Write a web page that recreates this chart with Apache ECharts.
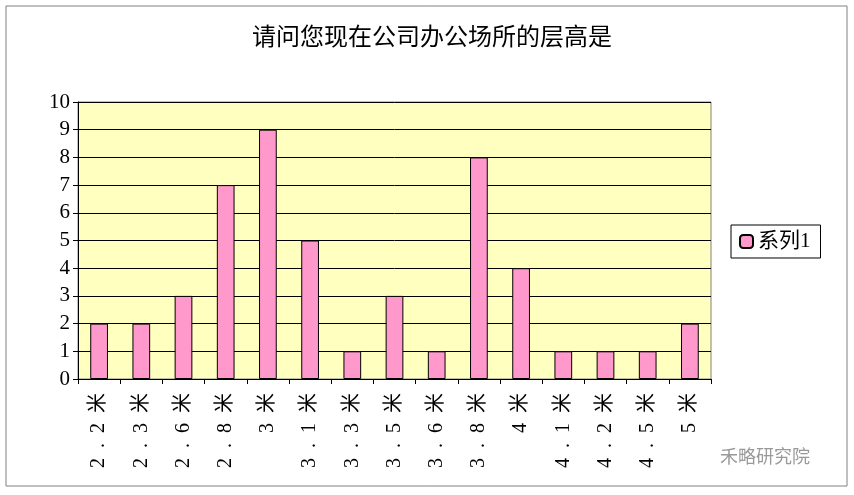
<!DOCTYPE html>
<html><head><meta charset="utf-8">
<script src="https://cdn.jsdelivr.net/npm/echarts@6/dist/echarts.min.js"></script>
<style>html,body{margin:0;padding:0;background:#fff}#c{width:854px;height:495px}</style>
</head><body><div id="c"></div>
<script>
const categories = ["2.2米","2.3米","2.6米","2.8米","3米","3.1米","3.3米","3.5米","3.6米","3.8米","4米","4.1米","4.2米","4.5米","5米"];
const values = [2,2,3,7,9,5,1,3,1,8,4,1,1,1,2];
const seriesName = "系列1";
const font = "'Liberation Serif','Noto Sans CJK SC',serif";
const chart = echarts.init(document.getElementById('c'));
chart.setOption({
  animation:false,
  backgroundColor:'#fff',
  textStyle:{fontFamily:font},
  title:{text:'请问您现在公司办公场所的层高是',left:427,top:22,textAlign:'center',
    textStyle:{fontFamily:font,fontWeight:'normal',fontSize:24,color:'#000'}},
  graphic:[
    {type:'rect',shape:{x:6,y:6,width:841,height:480},style:{fill:'none',stroke:'#808080',lineWidth:1}},
    {type:'text',left:720,top:447,style:{text:'禾略研究院',fill:'#999',font:"18px 'Noto Sans CJK SC'"}}
  ],
  legend:{data:[seriesName],left:731,top:225,orient:'vertical',itemWidth:13,itemHeight:13,
    padding:[6,10,6,8],borderColor:'#000',borderWidth:1,
    textStyle:{fontFamily:font,fontSize:21,color:'#000'}},
  grid:{left:78,right:143,top:102,bottom:116,show:true,backgroundColor:'#FFFFC0',borderColor:'#808080',borderWidth:1},
  xAxis:{type:'category',data:categories,
    axisLine:{lineStyle:{color:'#000'}},axisTick:{show:true,lineStyle:{color:'#000'}},
    axisLabel:{rotate:90,fontSize:20,color:'#000',fontFamily:font,margin:14,interval:0,
      formatter:v=>v.split('').join('\u2002')}},
  yAxis:{type:'value',min:0,max:10,interval:1,
    axisLine:{show:true,lineStyle:{color:'#000'}},axisTick:{show:true,lineStyle:{color:'#000'}},
    axisLabel:{fontSize:21,color:'#000',fontFamily:font,margin:8},
    splitLine:{lineStyle:{color:'#000',width:1}}},
  series:[{type:'bar',name:seriesName,data:values,barWidth:'42%',
    itemStyle:{color:'#FF99CC',borderColor:'#000',borderWidth:1}}]
});
</script></body></html>
